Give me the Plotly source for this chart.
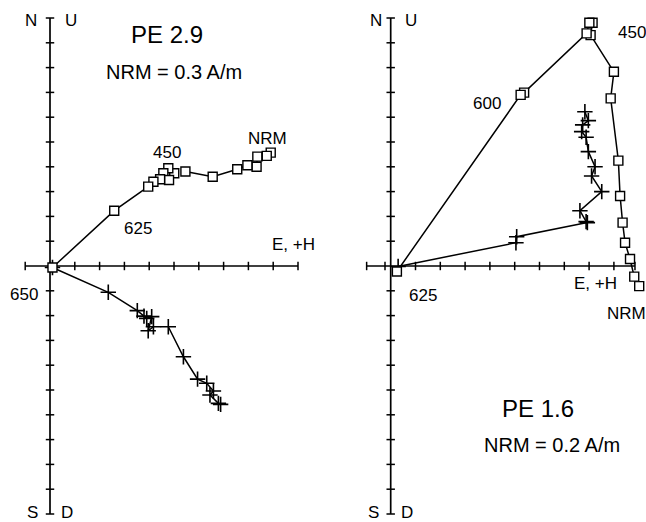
import plotly.graph_objects as go

# ---------------- data (tick units) ----------------
# Left panel: PE 2.9
left_h_x = [8.90, 8.74, 8.36, 8.33, 7.96, 7.55, 6.56, 5.46, None, 5.01, 4.77, 4.57, 4.80, 4.44, 4.17, 3.96, 2.59, 0.10]
left_h_y = [4.57, 4.44, 4.41, 4.00, 4.06, 3.90, 3.60, 3.81, None, 3.74, 3.94, 3.74, 3.47, 3.50, 3.40, 3.20, 2.23, -0.06]
left_v_x = [6.88, 6.79, 6.45, 6.59, 6.32, 5.95, 5.38, 4.77, None, 4.17, 3.96, 4.10, 3.90, 3.79, 3.52, 2.35, 0.10]
left_v_y = [-5.58, -5.54, -5.20, -5.04, -4.73, -4.56, -3.66, -2.45, None, -2.45, -2.61, -2.04, -2.11, -2.02, -1.80, -1.06, -0.06]

# Right panel: PE 1.6
right_h_x = [10.02, 9.82, 9.65, 9.45, 9.35, 9.25, 9.18, 8.87, 9.00, 8.06, 8.14, 8.01, 7.90, 5.38, 5.24, 0.25]
right_h_y = [-0.81, -0.43, 0.28, 0.94, 1.75, 2.82, 4.25, 6.76, 7.83, 9.31, 9.81, 9.81, 9.38, 6.99, 6.90, -0.22]
right_v_x = [7.83, 7.97, 7.74, 7.70, 7.88, 7.97, 8.24, 8.10, 8.51, 7.63, 7.88, 7.93, 5.08, 5.05, 0.30]
right_v_y = [6.22, 5.86, 5.69, 5.42, 5.19, 4.61, 4.00, 3.63, 3.00, 2.23, 1.79, 1.75, 1.18, 0.94, -0.02]

# axis ticks
x_ticks_left = list(range(-1, 11))
x_ticks_right = [-0.97, -0.23] + list(range(1, 10)) + [9.85]
y_ticks = [t for t in range(-10, 11) if t != 0]

# labels: (text, x, y, size)
left_labels = [("N", -0.77, 9.88, 17), ("U", 0.85, 9.88, 17), ("S", -0.69, -9.93, 17), ("D", 0.69, -9.93, 17),
               ("PE 2.9", 4.72, 9.35, 24), ("NRM = 0.3 A/m", 5.0, 7.82, 20), ("NRM", 8.79, 5.16, 17),
               ("450", 4.72, 4.56, 17), ("625", 3.55, 1.53, 17), ("E, +H", 9.80, 0.85, 17), ("650", -1.05, -1.13, 17)]
right_labels = [("N", -0.59, 9.88, 17), ("U", 0.82, 9.88, 17), ("S", -0.71, -9.93, 17), ("D", 0.66, -9.93, 17),
                ("450", 9.73, 9.40, 17), ("600", 3.88, 6.57, 17), ("625", 1.30, -1.17, 17),
                ("E, +H", 8.24, -0.69, 17), ("NRM", 9.49, -1.90, 17),
                ("PE 1.6", 5.94, -5.73, 24), ("NRM = 0.2 A/m", 6.5, -7.22, 20)]

FONT = "Liberation Sans, Arial, Helvetica, sans-serif"
TL = 0.17  # tick half-length in units

fig = go.Figure()


def axes_traces(xa, ya, xticks, xmin, xmax):
    fig.add_trace(go.Scatter(x=[xmin, xmax, None, 0, 0], y=[0, 0, None, -10, 10], mode="lines",
                             line=dict(color="black", width=1.7), xaxis=xa, yaxis=ya,
                             showlegend=False, hoverinfo="skip"))
    tx, ty = [], []
    for t in xticks:
        tx += [t, t, None]
        ty += [-TL, TL, None]
    for t in y_ticks:
        tx += [-TL, TL, None]
        ty += [t, t, None]
    fig.add_trace(go.Scatter(x=tx, y=ty, mode="lines", line=dict(color="black", width=1.5),
                             xaxis=xa, yaxis=ya, showlegend=False, hoverinfo="skip"))


def data_traces(xa, ya, hx, hy, vx, vy):
    fig.add_trace(go.Scatter(x=vx, y=vy, mode="lines+markers", line=dict(color="black", width=1.5),
                             marker=dict(symbol="cross-thin-open", size=11, line=dict(color="black", width=1.6)),
                             xaxis=xa, yaxis=ya, showlegend=False, hoverinfo="skip", connectgaps=False))
    fig.add_trace(go.Scatter(x=hx, y=hy, mode="lines+markers", line=dict(color="black", width=1.5),
                             marker=dict(symbol="square", size=9, color="white", line=dict(color="black", width=1.4)),
                             xaxis=xa, yaxis=ya, showlegend=False, hoverinfo="skip", connectgaps=False))


axes_traces("x", "y", x_ticks_left, -1, 10)
axes_traces("x2", "y2", x_ticks_right, -0.97, 9.85)
data_traces("x", "y", left_h_x, left_h_y, left_v_x, left_v_y)
data_traces("x2", "y2", right_h_x, right_h_y, right_v_x, right_v_y)

annotations = []
for (txt, x, y, s) in left_labels:
    annotations.append(dict(text=txt, x=x, y=y, xref="x", yref="y", showarrow=False,
                            font=dict(family=FONT, size=s, color="black"), xanchor="center", yanchor="middle"))
for (txt, x, y, s) in right_labels:
    annotations.append(dict(text=txt, x=x, y=y, xref="x2", yref="y2", showarrow=False,
                            font=dict(family=FONT, size=s, color="black"), xanchor="center", yanchor="middle"))

S = 24.8
W, H = 646, 522
ox_l, ox_r, oy = 50.0, 390.7, 266.0
split = 323
ax_common = dict(visible=False, showgrid=False, zeroline=False, fixedrange=True)
fig.update_layout(
    width=W, height=H, autosize=False,
    margin=dict(l=0, r=0, t=0, b=0, pad=0),
    paper_bgcolor="white", plot_bgcolor="white",
    xaxis=dict(domain=[0, split / W], range=[(0 - ox_l) / S, (split - ox_l) / S], **ax_common),
    xaxis2=dict(domain=[split / W, 1], range=[(split - ox_r) / S, (W - ox_r) / S], **ax_common),
    yaxis=dict(domain=[0, 1], range=[(oy - H) / S, oy / S], anchor="x", **ax_common),
    yaxis2=dict(domain=[0, 1], range=[(oy - H) / S, oy / S], anchor="x2", **ax_common),
    annotations=annotations,
    showlegend=False,
)

fig.write_html("out.html", config={"displayModeBar": False},
               post_script="document.body.style.margin='0px';document.body.style.overflow='hidden';")
